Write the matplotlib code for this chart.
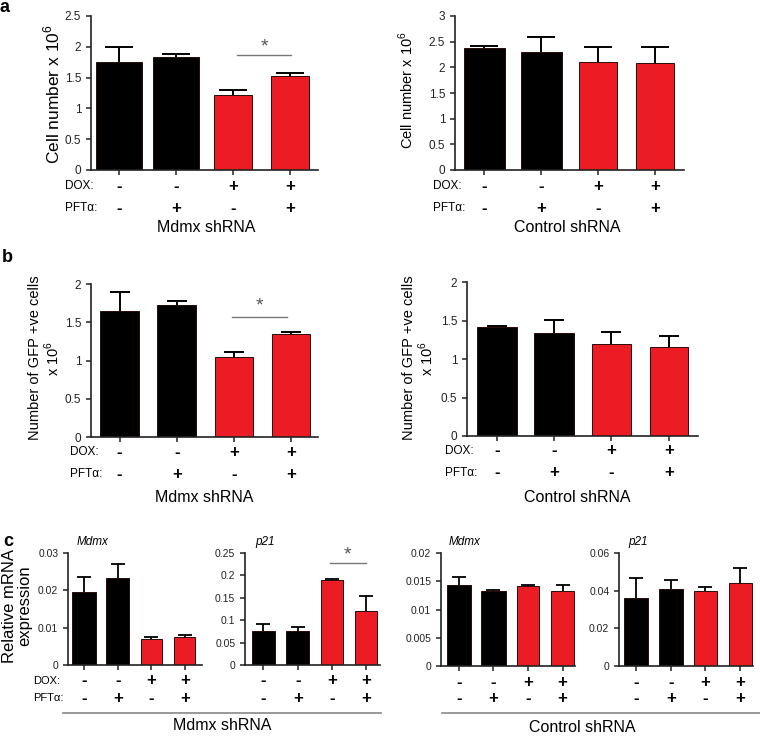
import matplotlib
matplotlib.use('Agg')
import matplotlib.pyplot as plt
from matplotlib.lines import Line2D
import numpy as np

plt.rcParams['font.family'] = ['Liberation Sans', 'DejaVu Sans']
plt.rcParams['mathtext.fontset'] = 'custom'
plt.rcParams['mathtext.rm'] = 'Liberation Sans'

W, H = 760, 741
RED = '#EC1C24'

# treatment rows under every panel
dox = ['-', '-', '+', '+']
pft = ['-', '+', '-', '+']
bar_colors = ['black', 'black', RED, RED]

# panel a: cell number x 10^6
a_mdmx_mean = [1.76, 1.84, 1.22, 1.53]
a_mdmx_err = [0.24, 0.04, 0.08, 0.04]
a_ctrl_mean = [2.38, 2.29, 2.11, 2.09]
a_ctrl_err = [0.03, 0.30, 0.29, 0.30]

# panel b: GFP +ve cells x 10^6
b_mdmx_mean = [1.65, 1.73, 1.045, 1.34]
b_mdmx_err = [0.24, 0.05, 0.07, 0.03]
b_ctrl_mean = [1.415, 1.34, 1.19, 1.155]
b_ctrl_err = [0.015, 0.17, 0.16, 0.15]

# panel c: relative mRNA expression
c_mdmx_mdmx_mean = [0.0196, 0.0233, 0.0070, 0.0075]
c_mdmx_mdmx_err = [0.0040, 0.0038, 0.0006, 0.0006]
c_mdmx_p21_mean = [0.076, 0.076, 0.190, 0.1205]
c_mdmx_p21_err = [0.016, 0.009, 0.002, 0.034]
c_ctrl_mdmx_mean = [0.0143, 0.0133, 0.0141, 0.0133]
c_ctrl_mdmx_err = [0.0014, 0.0002, 0.0002, 0.0010]
c_ctrl_p21_mean = [0.036, 0.041, 0.040, 0.044]
c_ctrl_p21_err = [0.0107, 0.0045, 0.002, 0.008]

fig = plt.figure(figsize=(W / 100, H / 100), dpi=100)


def px_axes(left, top, right, bottom):
    return fig.add_axes([left / W, 1 - bottom / H, (right - left) / W, (bottom - top) / H])


def fig_text(x, y, s, **kw):
    fig.text(x / W, 1 - y / H, s, **kw)


def bar_panel(ax, means, errs, widths, xlim, yticks, capsize, tick_fs,
              row_off, label_off=None, sig=None, lw=1.4):
    x = np.arange(len(means))
    ax.bar(x, means, width=widths, color=bar_colors, edgecolor='#2a0a0a',
           linewidth=0.7, zorder=2)
    eb = ax.errorbar(x, means, yerr=[np.zeros(len(errs)), errs], fmt='none',
                     ecolor='black', elinewidth=lw, capsize=capsize,
                     capthick=lw, zorder=1)
    eb[1][0].set_visible(False)
    ax.set_xlim(*xlim)
    ax.set_ylim(yticks[0], yticks[-1])
    ax.set_yticks(yticks)
    ax.set_yticklabels([f'{v:g}' for v in yticks], fontsize=tick_fs, color='#222222')
    ax.set_xticks(x)
    ax.set_xticklabels([])
    ax.tick_params(axis='both', direction='out', length=3.5, width=1.1, color='#222222')
    for s in ['top', 'right']:
        ax.spines[s].set_visible(False)
    for s in ['left', 'bottom']:
        ax.spines[s].set_linewidth(1.2)
        ax.spines[s].set_color('#222222')
    # +/- rows
    d1, d2 = row_off
    for i in x:
        ax.annotate(dox[i], xy=(i, 0), xycoords=('data', 'axes fraction'),
                    xytext=(0, -d1 * 0.72), textcoords='offset points',
                    ha='center', va='center', fontsize=12, fontweight='bold')
        ax.annotate(pft[i], xy=(i, 0), xycoords=('data', 'axes fraction'),
                    xytext=(0, -d2 * 0.72), textcoords='offset points',
                    ha='center', va='center', fontsize=12, fontweight='bold')
    if label_off is not None:
        lx, fs = label_off
        ax.annotate('DOX:', xy=(0, 0), xycoords='axes fraction',
                    xytext=(-lx * 0.72, -d1 * 0.72), textcoords='offset points',
                    ha='left', va='center', fontsize=fs)
        ax.annotate('PFTα:', xy=(0, 0), xycoords='axes fraction',
                    xytext=(-lx * 0.72, -d2 * 0.72), textcoords='offset points',
                    ha='left', va='center', fontsize=fs)
    if sig is not None:
        x0, x1, y, ys = sig
        ax.plot([x0, x1], [y, y], color='#777777', lw=1.0, clip_on=False)
        ax.text((x0 + x1) / 2, ys, '*', ha='center', va='center',
                fontsize=14, color='#555555')


# ---- panel a ----
ax = px_axes(91, 16, 318, 170)
bar_panel(ax, a_mdmx_mean, a_mdmx_err, [0.82, 0.82, 0.67, 0.67], (-0.49, 3.49),
          [0, 0.5, 1, 1.5, 2, 2.5], 10, 8.5, (16, 38), (26, 8.5),
          sig=(2.07, 3.02, 1.87, 1.99))
ax = px_axes(455, 16, 684, 170)
bar_panel(ax, a_ctrl_mean, a_ctrl_err, [0.72, 0.72, 0.67, 0.67], (-0.51, 3.51),
          [0, 0.5, 1, 1.5, 2, 2.5, 3], 10, 8.5, (16, 38), (22, 8.5))

# ---- panel b ----
ax = px_axes(91, 284, 318, 437)
bar_panel(ax, b_mdmx_mean, b_mdmx_err, [0.68, 0.68, 0.67, 0.67], (-0.50, 3.47),
          [0, 0.5, 1, 1.5, 2], 7.5, 8.5, (15, 37), (21, 8.5),
          sig=(1.97, 2.93, 1.57, 1.71))
ax = px_axes(467, 282, 698, 436)
bar_panel(ax, b_ctrl_mean, b_ctrl_err, [0.70, 0.70, 0.67, 0.67], (-0.52, 3.51),
          [0, 0.5, 1, 1.5, 2], 7.5, 8.5, (15, 37), (22, 8.5))

# ---- panel c ----
ax = px_axes(68, 553, 202, 665)
bar_panel(ax, c_mdmx_mdmx_mean, c_mdmx_mdmx_err, [0.70, 0.70, 0.62, 0.62],
          (-0.48, 3.51), [0, 0.01, 0.02, 0.03], 5, 7.5, (16, 33), (35, 8), lw=1.3)
ax = px_axes(245, 553, 380, 665)
bar_panel(ax, c_mdmx_p21_mean, c_mdmx_p21_err, [0.68, 0.68, 0.65, 0.65],
          (-0.54, 3.41), [0, 0.05, 0.1, 0.15, 0.2, 0.25], 5, 7.5, (16, 33),
          sig=(1.94, 3.0, 0.228, 0.246), lw=1.3)
ax = px_axes(441, 553, 575, 666)
bar_panel(ax, c_ctrl_mdmx_mean, c_ctrl_mdmx_err, [0.70, 0.70, 0.65, 0.65],
          (-0.52, 3.36), [0, 0.005, 0.01, 0.015, 0.02], 5, 7.5, (16, 33), lw=1.3)
ax = px_axes(619, 553, 753, 666)
bar_panel(ax, c_ctrl_p21_mean, c_ctrl_p21_err, [0.69, 0.69, 0.67, 0.67],
          (-0.49, 3.37), [0, 0.02, 0.04, 0.06], 5, 7.5, (16, 33), lw=1.3)

# ---- labels ----
fig_text(0, 8, 'a', fontsize=13, fontweight='bold', va='center')
fig_text(2, 257, 'b', fontsize=13, fontweight='bold', va='center')
fig_text(3, 541, 'c', fontsize=13, fontweight='bold', va='center')

fig_text(52, 94, 'Cell number x 10$^6$', rotation=90, ha='center', va='center', fontsize=12.5)
fig_text(406, 90, 'Cell number x 10$^6$', rotation=90, ha='center', va='center', fontsize=10.5)
fig_text(45, 358, 'Number of GFP +ve cells\nx 10$^6$', rotation=90, ha='center',
         va='center', fontsize=10.5, linespacing=1.1)
fig_text(419, 358, 'Number of GFP +ve cells\nx 10$^6$', rotation=90, ha='center',
         va='center', fontsize=10.5, linespacing=1.1)
fig_text(17, 606, 'Relative mRNA\nexpression', rotation=90, ha='center',
         va='center', fontsize=12, linespacing=1.05)

fig_text(206, 228, 'Mdmx shRNA', ha='center', va='center', fontsize=11.5)
fig_text(567, 228, 'Control shRNA', ha='center', va='center', fontsize=11.5)
fig_text(204, 497, 'Mdmx shRNA', ha='center', va='center', fontsize=11.5)
fig_text(577, 497, 'Control shRNA', ha='center', va='center', fontsize=11.5)
fig_text(222, 726, 'Mdmx shRNA', ha='center', va='center', fontsize=11.5)
fig_text(582, 727, 'Control shRNA', ha='center', va='center', fontsize=11.5)

for x, s in [(77, 'Mdmx'), (255, 'p21'), (449, 'Mdmx'), (628, 'p21')]:
    fig_text(x, 542, s, ha='left', va='center', fontsize=8.5, style='italic')

for x0, x1 in [(63, 381), (442, 760)]:
    fig.add_artist(Line2D([x0 / W, x1 / W], [1 - 713 / H, 1 - 713 / H],
                          color='#888888', lw=1.2))

fig.savefig('out.png', dpi=100)
